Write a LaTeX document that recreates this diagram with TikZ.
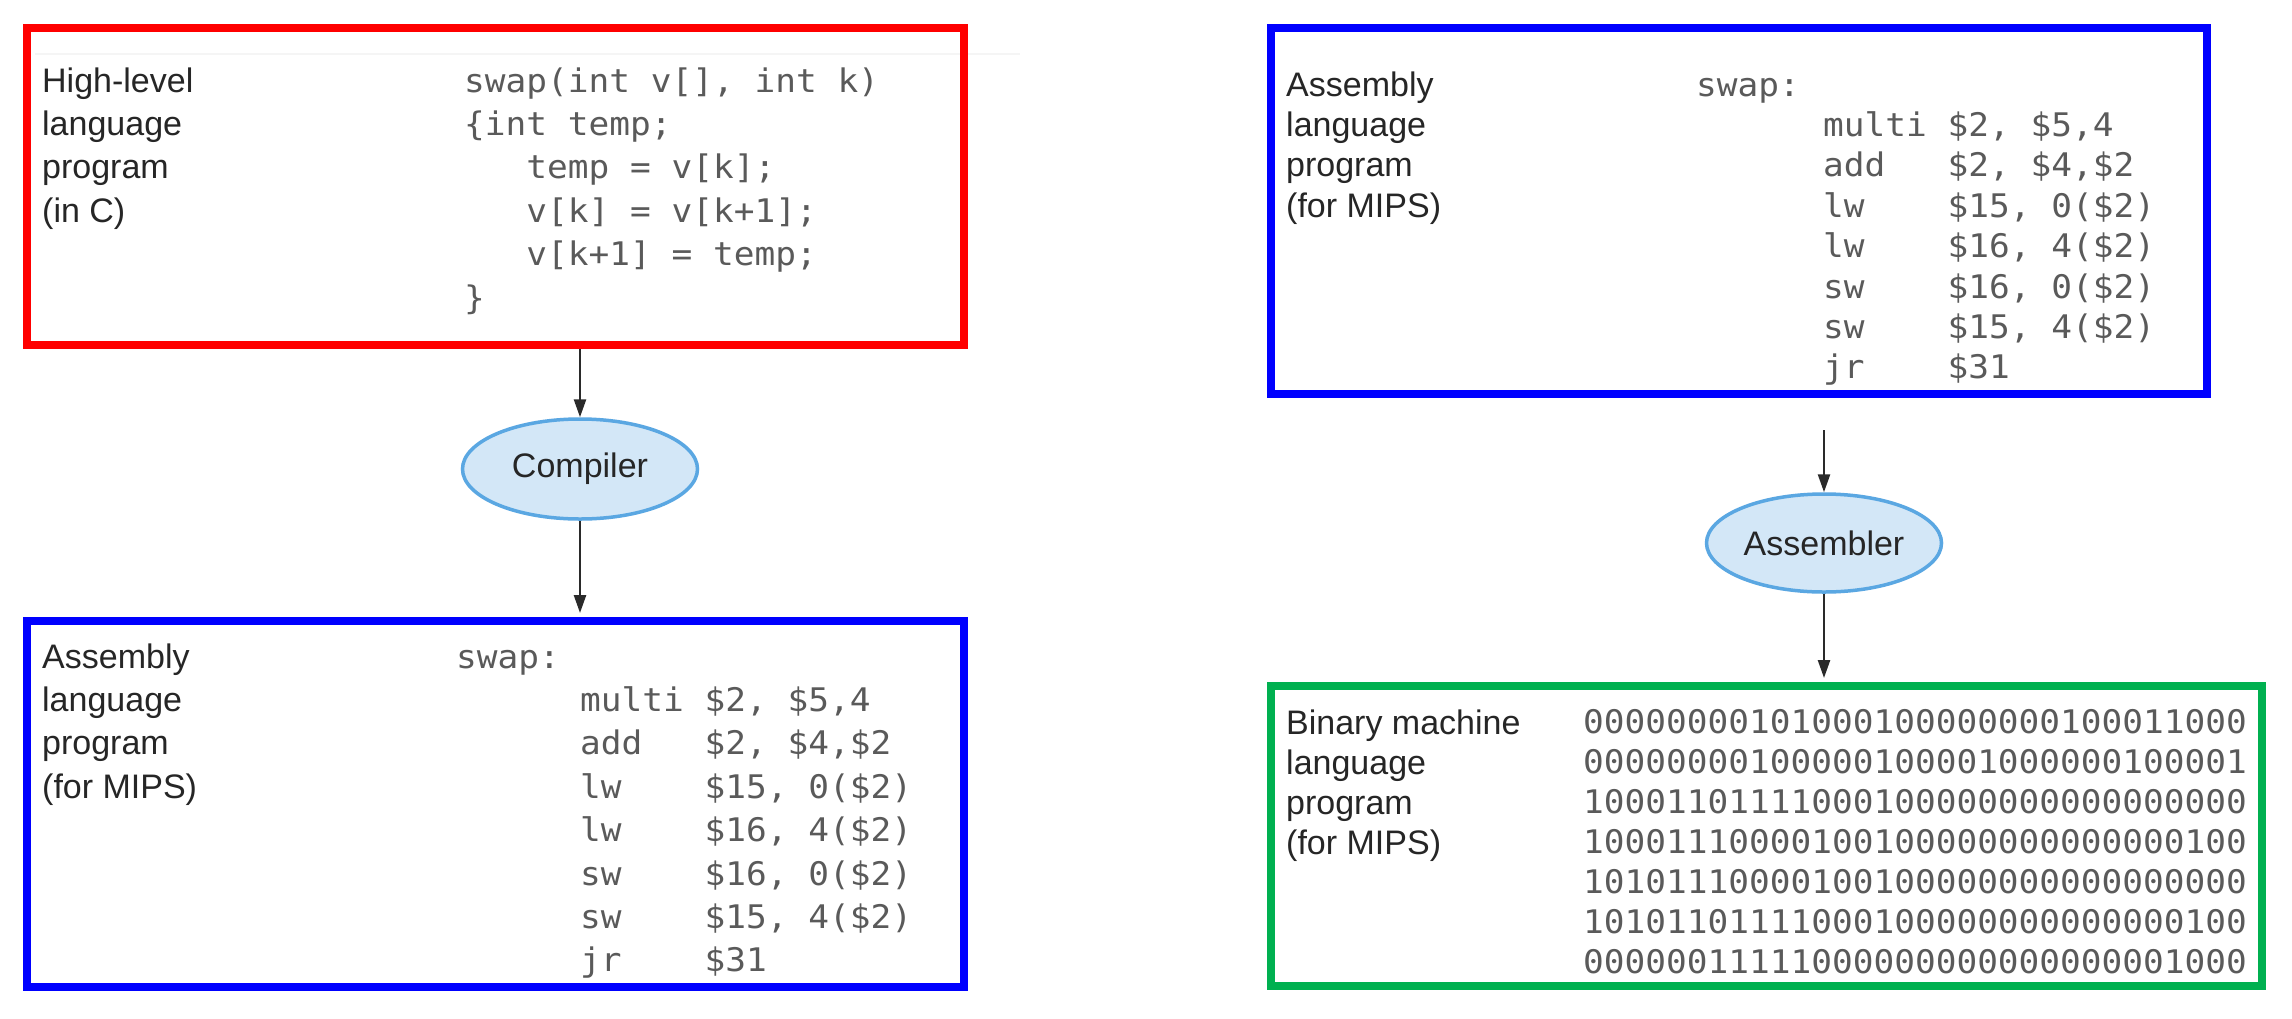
\documentclass[tikz,border=0pt]{standalone}
\usepackage{fontspec}
\setmainfont{Liberation Sans}
\newfontfamily\codefont[FakeStretch=1.06]{DejaVu Sans Mono}
\usetikzlibrary{arrows.meta,shapes.geometric}
\definecolor{boxred}{HTML}{FF0000}
\definecolor{boxblue}{HTML}{0000FF}
\definecolor{boxgreen}{HTML}{00B050}
\definecolor{ellfill}{HTML}{D3E7F7}
\definecolor{elldraw}{HTML}{5AA7E2}
\definecolor{codegray}{HTML}{5A5A5A}
\definecolor{arrowgray}{HTML}{2A2A2A}
\begin{document}
\begin{tikzpicture}[x=1pt,y=-1pt,
  frame/.style={draw=#1,line width=8pt,inner sep=0pt},
  lbl/.style={anchor=base west,inner sep=0pt,font=\fontsize{34}{40}\selectfont,text=black!85},
  code/.style={anchor=base west,inner sep=0pt,font=\codefont\fontsize{32.5}{40}\selectfont,text=codegray},
  tool/.style={ellipse,draw=elldraw,fill=ellfill,line width=3.5pt,minimum width=235pt,minimum height=100pt,inner sep=0pt,font=\fontsize{34}{40}\selectfont,text=black!85},
  flow/.style={draw=arrowgray,line width=2.5pt,-{Triangle[length=18pt,width=12pt]}}]
\useasboundingbox (0,0) rectangle (2292,1018);
\fill[white] (0,0) rectangle (2292,1018);
\draw[black!4,line width=2pt] (35,54) -- (1020,54);

% boxes
\node[frame=boxred,minimum width=937pt,minimum height=317pt] (hl) at (495.5,186.5) {};
\node[frame=boxblue,minimum width=937pt,minimum height=366pt] (asmL) at (495.5,804) {};
\node[frame=boxblue,minimum width=936pt,minimum height=366pt] (asmR) at (1739,211) {};
\node[frame=boxgreen,minimum width=991pt,minimum height=300pt] (bin) at (1766.5,836) {};

% ellipses
\node[tool] (cmp) at (580,469) {Compiler};
\node[tool,minimum height=98pt] (asb) at (1824,543) {Assembler};

% connectors
\draw[flow] (cmp.north |- hl.south) -- (cmp.north);
\draw[flow,shorten >=4pt] (cmp.south) -- (cmp.south |- asmL.north);
\coordinate (asbin) at (1824,430);
\draw[flow] (asbin) -- (asb.north);
\draw[flow,shorten >=4pt] (asb.south) -- (asb.south |- bin.north);

% red box texts
\foreach \t [count=\i from 0] in {High-level,language,program,(in C)}
  \node[lbl] (hll\i) at (42,92+43.4*\i) {\t};
\node[code] (hlc0) at (464,92) {swap(int~v[],~int~k)};
\node[code] (hlc1) at (464,135.4) {\{int~temp;};
\node[code] (hlc2) at (464,178.8) {~~~temp~=~v[k];};
\node[code] (hlc3) at (464,222.2) {~~~v[k]~=~v[k+1];};
\node[code] (hlc4) at (464,265.6) {~~~v[k+1]~=~temp;};
\node[code] (hlc5) at (464,309) {\}};

% bottom-left assembly texts
\foreach \t [count=\i from 0] in {Assembly,language,program,(for MIPS)}
  \node[lbl] (all\i) at (42,668+43.4*\i) {\t};
\node[code] (alc0) at (456,668) {swap:};
\node[code] (alc1) at (580,711.4) {multi~\$2,~\$5,4};
\node[code] (alc2) at (580,754.8) {add~~~\$2,~\$4,\$2};
\node[code] (alc3) at (580,798.2) {lw~~~~\$15,~0(\$2)};
\node[code] (alc4) at (580,841.6) {lw~~~~\$16,~4(\$2)};
\node[code] (alc5) at (580,885) {sw~~~~\$16,~0(\$2)};
\node[code] (alc6) at (580,928.4) {sw~~~~\$15,~4(\$2)};
\node[code] (alc7) at (580,971.8) {jr~~~~\$31};

% right assembly texts
\foreach \t [count=\i from 0] in {Assembly,language,program,(for MIPS)}
  \node[lbl] (arl\i) at (1286,96+40.4*\i) {\t};
\node[code] (arc0) at (1696,96) {swap:};
\node[code] (arc1) at (1823,136.4) {multi~\$2,~\$5,4};
\node[code] (arc2) at (1823,176.8) {add~~~\$2,~\$4,\$2};
\node[code] (arc3) at (1823,217.2) {lw~~~~\$15,~0(\$2)};
\node[code] (arc4) at (1823,257.6) {lw~~~~\$16,~4(\$2)};
\node[code] (arc5) at (1823,298) {sw~~~~\$16,~0(\$2)};
\node[code] (arc6) at (1823,338.4) {sw~~~~\$15,~4(\$2)};
\node[code] (arc7) at (1823,378.8) {jr~~~~\$31};

% binary texts
\foreach \t [count=\i from 0] in {Binary machine,language,program,(for MIPS)}
  \node[lbl] (bl\i) at (1286,734+40*\i) {\t};
\foreach \t [count=\i from 0] in {00000000101000100000000100011000,
  00000000100000100001000000100001,
  10001101111000100000000000000000,
  10001110000100100000000000000100,
  10101110000100100000000000000000,
  10101101111000100000000000000100,
  00000011111000000000000000001000}
  \node[code] (bc\i) at (1583,733+40*\i) {\t};
\end{tikzpicture}
\end{document}
